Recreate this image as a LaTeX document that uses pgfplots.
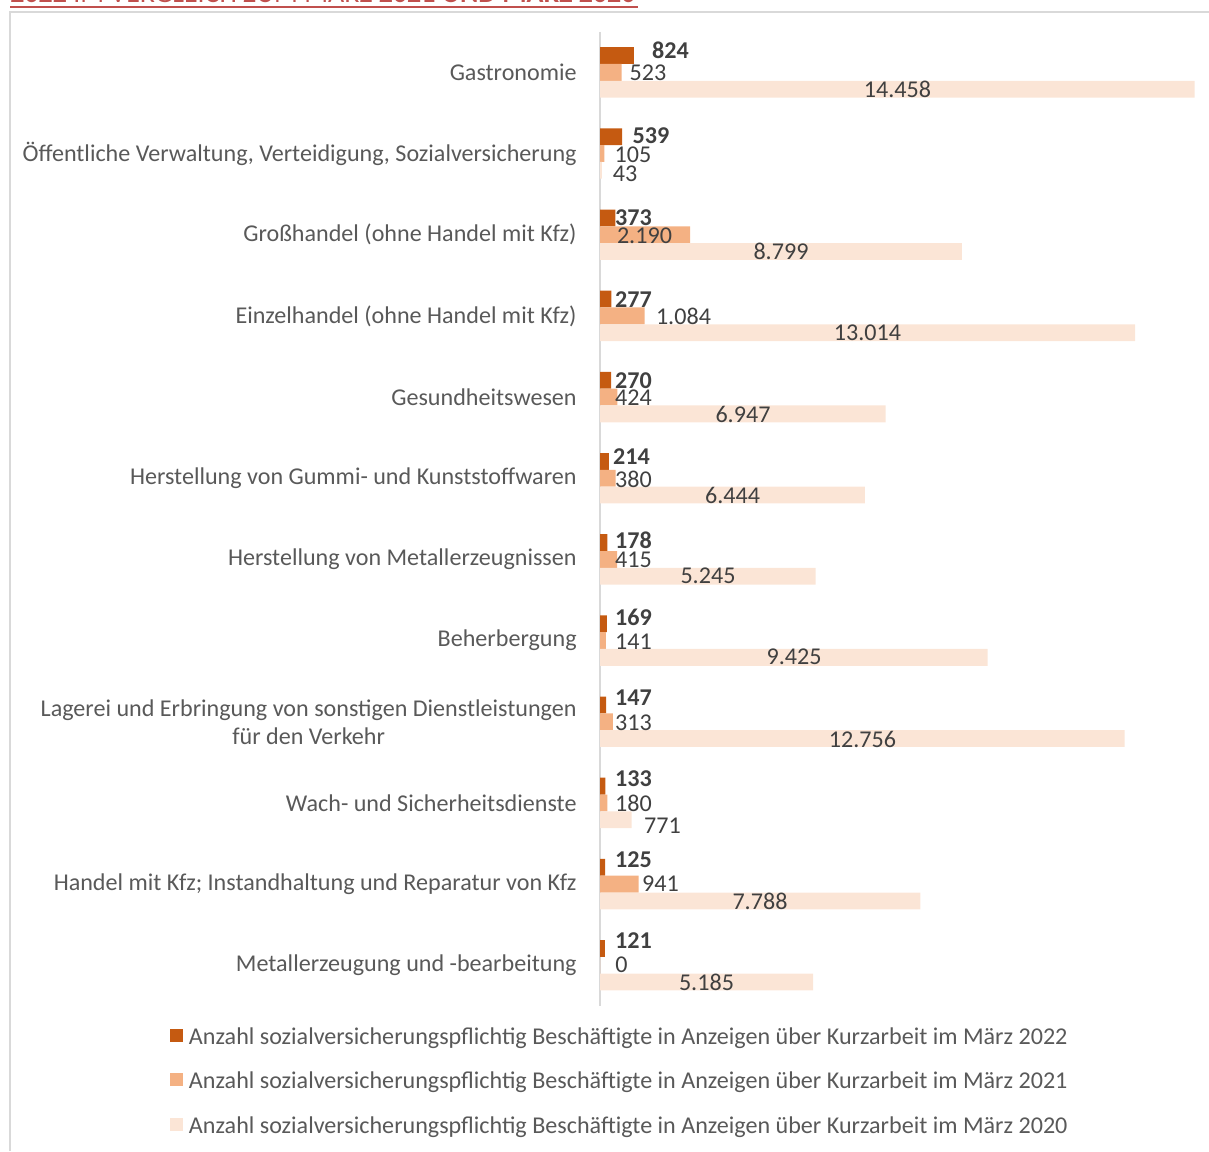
\documentclass[border=0pt]{standalone}
\usepackage{graphicx}
\usepackage{fontspec}
\setmainfont{Carlito}
\usepackage{pgfplots}
\usepackage{pgfplotstable}
\pgfplotsset{compat=1.18}

\definecolor{c22}{HTML}{C55A11}
\definecolor{c21}{HTML}{F4B183}
\definecolor{c20}{HTML}{FBE5D6}
\definecolor{lab}{HTML}{404040}
\definecolor{catc}{HTML}{595959}
\definecolor{framec}{HTML}{D9D9D9}
\definecolor{titlered}{HTML}{C0504D}
\newcommand{\lf}{\fontsize{12.05pt}{14pt}\selectfont}

% values and label positions (label positions in pixels of the reference)
\pgfplotstableread{
i v22 v21 v20 x22 y22 x21 y21 x20 y20
0 824 523 14458 670.5 50.5 648 72.5 897.5 89.5
1 539 105 43 651 135.5 633 154.5 625 174
2 373 2190 8799 633.5 218 644.5 235.5 781 251
3 277 1084 13014 633.5 299.5 683.5 316 867.5 333
4 270 424 6947 633.5 380.5 633.5 398 743 414.5
5 214 380 6444 631.5 457 633.5 479 732.5 495.5
6 178 415 5245 633.5 540.5 633.5 560 708 576
7 169 141 9425 633.5 617 633.5 642 794 657
8 147 313 12756 633.5 698 633.5 722.5 862.5 739
9 133 180 771 633.5 778.5 633.5 803 662.5 825.5
10 125 941 7788 633.5 859.5 660.5 884 760 901
11 121 0 5185 633.5 941 621.5 965 706.5 982
}\data

\begin{document}
\begin{tikzpicture}
\useasboundingbox (0,0) rectangle (604.5pt,-575.5pt);
% frame
\draw[framec, line width=0.75pt] (5pt,-575.5pt) -- (5pt,-5.9pt) -- (604.5pt,-5.9pt);
% cropped title
\begin{scope}
\clip (0,0) rectangle (604.5pt,-1.55pt);
\node[anchor=base west, inner sep=0pt, text=titlered] at (5pt,-1.5pt)
  {\resizebox{312.5pt}{!}{\bfseries 2022 \mdseries IM VERGLEICH ZUM MÄRZ \bfseries 2021 UND MÄRZ 2020}};
\end{scope}
\fill[titlered] (5pt,-3pt) rectangle (319pt,-3.8pt);

\begin{axis}[
  at={(300pt,-15.875pt)}, anchor=north west,
  scale only axis, width=300pt, height=487.05pt,
  xmin=0, xmax=14591, ymin=-0.5, ymax=11.5,
  y dir=reverse,
  axis x line=none, axis y line*=left,
  y axis line style={draw=framec, line width=0.75pt},
  ytick={0,...,11},
  yticklabels={Gastronomie,
    {Öffentliche Verwaltung, Verteidigung, Sozialversicherung},
    Großhandel (ohne Handel mit Kfz),
    Einzelhandel (ohne Handel mit Kfz),
    Gesundheitswesen,
    Herstellung von Gummi- und Kunststoffwaren,
    Herstellung von Metallerzeugnissen,
    Beherbergung,
    {Lagerei und Erbringung von sonstigen Dienstleistungen\\für den Verkehr},
    Wach- und Sicherheitsdienste,
    {Handel mit Kfz; Instandhaltung und Reparatur von Kfz},
    Metallerzeugung und -bearbeitung},
  major tick length=0pt,
  ytick style={draw=none},
  yticklabel style={anchor=east, inner sep=0pt, xshift=-11.5pt, align=center, text=catc, font=\lf},
  clip=false,
  legend cell align=left,
  legend style={at={(-0.71667,-0.0224)}, anchor=north west, draw=none, fill=none,
    inner sep=0pt, outer sep=0pt, row sep=11.6pt, font=\lf, text=catc,
    nodes={inner sep=0pt, text height=8.5pt, text depth=2pt},
    /tikz/every odd column/.append style={column sep=3pt}},
  legend image code/.code={\fill[#1] (0pt,-2pt) rectangle (6.5pt,4.5pt);},
]
\addplot[xbar, bar width=8.4pt, bar shift=8.4pt, fill=c22, draw=none] table[x=v22, y=i]{\data};
\addplot[xbar, bar width=8.4pt, bar shift=0pt, fill=c21, draw=none] table[x=v21, y=i]{\data};
\addplot[xbar, bar width=8.4pt, bar shift=-8.4pt, fill=c20, draw=none] table[x=v20, y=i]{\data};

\addplot[forget plot, draw=none, mark=none, point meta=explicit, nodes near coords,
  nodes near coords style={anchor=center, inner sep=0pt, text=lab, font=\lf\bfseries,
    /pgf/number format/assume math mode=true, /pgf/number format/1000 sep={.}}]
  table[x expr=(\thisrow{x22}-600)*24.3183, y expr=(\thisrow{y22}-72.34)/81.175, meta=v22]{\data};
\addplot[forget plot, draw=none, mark=none, point meta=explicit, nodes near coords,
  nodes near coords style={anchor=center, inner sep=0pt, text=lab, font=\lf,
    /pgf/number format/assume math mode=true, /pgf/number format/1000 sep={.}}]
  table[x expr=(\thisrow{x21}-600)*24.3183, y expr=(\thisrow{y21}-72.34)/81.175, meta=v21]{\data};
\addplot[forget plot, draw=none, mark=none, point meta=explicit, nodes near coords,
  nodes near coords style={anchor=center, inner sep=0pt, text=lab, font=\lf,
    /pgf/number format/assume math mode=true, /pgf/number format/1000 sep={.}}]
  table[x expr=(\thisrow{x20}-600)*24.3183, y expr=(\thisrow{y20}-72.34)/81.175, meta=v20]{\data};

\legend{Anzahl sozialversicherungspflichtig Beschäftigte in Anzeigen über Kurzarbeit im März 2022,
  Anzahl sozialversicherungspflichtig Beschäftigte in Anzeigen über Kurzarbeit im März 2021,
  Anzahl sozialversicherungspflichtig Beschäftigte in Anzeigen über Kurzarbeit im März 2020}
\end{axis}
\end{tikzpicture}
\end{document}
